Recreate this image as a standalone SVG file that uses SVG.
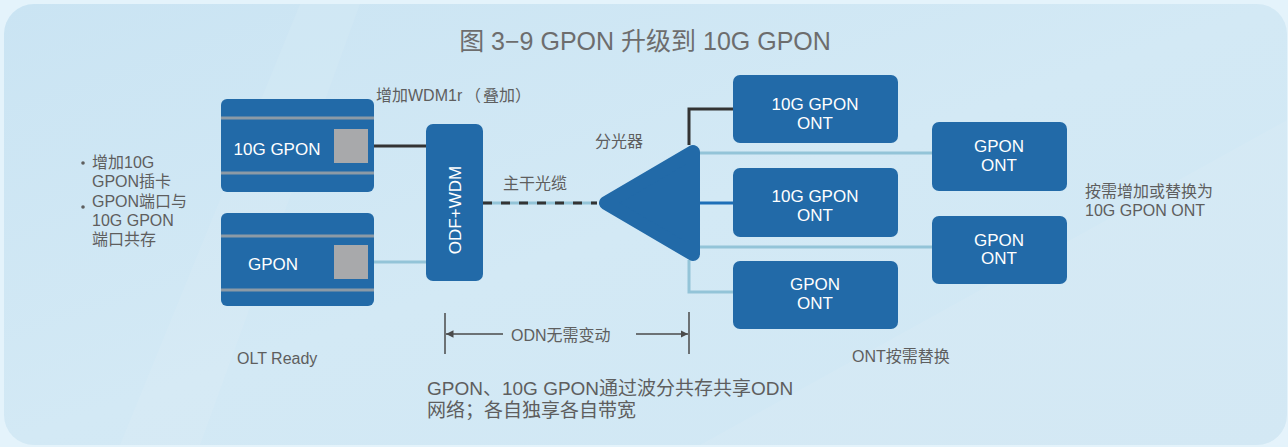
<svg xmlns="http://www.w3.org/2000/svg" width="1288" height="447" viewBox="0 0 1288 447">
<defs>
<linearGradient id="bg" x1="0" y1="0" x2="1" y2="1">
<stop offset="0" stop-color="#cae4f3"/>
<stop offset="0.5" stop-color="#d3e9f5"/>
<stop offset="1" stop-color="#d0e7f4"/>
</linearGradient>
<marker id="arr" viewBox="0 0 10 10" refX="10" refY="5" markerWidth="5" markerHeight="5" orient="auto-start-reverse" markerUnits="strokeWidth">
<path d="M0,0 L10,5 L0,10 z" fill="#4a4a4a"/>
</marker>
</defs>
<style>
.node{fill:#226aa8}
.wt{fill:#ffffff;font-family:"Liberation Sans","Noto Sans CJK SC",sans-serif;font-size:17px;text-anchor:middle}
.lbl{fill:#5e5e5e;font-family:"Liberation Sans","Noto Sans CJK SC",sans-serif;font-size:16px}
.big{font-size:19px}
.rail{stroke:#8c9aa6;stroke-width:3}
.port{fill:#a8a9ab}
.dark{stroke:#333333;stroke-width:3;fill:none}
.light{stroke:#93c4d8;stroke-width:3;fill:none}
.blue{stroke:#1d6fb8;stroke-width:3;fill:none}
.dim{stroke:#4a4a4a;stroke-width:1.5;fill:none}
</style>
<rect x="0" y="0" width="1288" height="447" fill="#e4f3fb"/>
<rect x="4" y="4" width="1283" height="441" rx="30" fill="url(#bg)"/>
<polygon points="300,4 360,4 200,445 120,445" fill="#ffffff" opacity="0.08"/>
<polygon points="700,445 1287,120 1287,445" fill="#ffffff" opacity="0.07"/>

<text x="645" y="50" text-anchor="middle" fill="#6d6d6d" font-family="Liberation Sans,Noto Sans CJK SC,sans-serif" font-size="25">图 3−9 GPON 升级到 10G GPON</text>

<g id="connectors">
<line class="dark" x1="368" y1="146" x2="426" y2="146"/>
<line class="light" x1="368" y1="262" x2="426" y2="262"/>
<line class="light" x1="483" y1="203" x2="597" y2="203"/>
<line class="dark" x1="483" y1="203" x2="597" y2="203" stroke-dasharray="9 9"/>
<path class="dark" d="M689,145 V109 H733"/>
<path class="light" d="M699,153 H932"/>
<path class="blue" d="M699,203 H733"/>
<path class="light" d="M699,247 H932"/>
<path class="light" d="M689,260 V292 H733"/>
</g>

<g id="olt-10g">
<rect class="node" x="221" y="99" width="153" height="93" rx="6"/>
<line class="rail" x1="221" y1="118" x2="374" y2="118"/>
<line class="rail" x1="221" y1="173" x2="374" y2="173"/>
<rect class="port" x="334" y="129" width="34" height="34"/>
<text class="wt" x="277" y="155">10G GPON</text>
</g>
<g id="olt-gpon">
<rect class="node" x="221" y="213" width="153" height="93" rx="6"/>
<line class="rail" x1="221" y1="236" x2="374" y2="236"/>
<line class="rail" x1="221" y1="290" x2="374" y2="290"/>
<rect class="port" x="334" y="245" width="34" height="34"/>
<text class="wt" x="273" y="270">GPON</text>
</g>
<g id="odf-wdm">
<rect class="node" x="426" y="124" width="57" height="157" rx="7"/>
<text class="wt" transform="translate(461,210) rotate(-90)" x="0" y="0">ODF+WDM</text>
</g>
<g id="splitter">
<polygon points="606,203 693,152 693,254" fill="#226aa8" stroke="#226aa8" stroke-width="14" stroke-linejoin="round"/>
</g>
<g id="ont-10g-1">
<rect class="node" x="733" y="75" width="165" height="68" rx="7"/>
<text class="wt" x="815" y="110">10G GPON</text>
<text class="wt" x="815" y="129">ONT</text>
</g>
<g id="ont-10g-2">
<rect class="node" x="733" y="168" width="165" height="69" rx="7"/>
<text class="wt" x="815" y="202">10G GPON</text>
<text class="wt" x="815" y="221">ONT</text>
</g>
<g id="ont-gpon-3">
<rect class="node" x="733" y="261" width="165" height="68" rx="7"/>
<text class="wt" x="815" y="290">GPON</text>
<text class="wt" x="815" y="309">ONT</text>
</g>
<g id="ont-gpon-1">
<rect class="node" x="932" y="122" width="135" height="69" rx="7"/>
<text class="wt" x="999" y="152">GPON</text>
<text class="wt" x="999" y="171">ONT</text>
</g>
<g id="ont-gpon-2">
<rect class="node" x="932" y="216" width="135" height="68" rx="7"/>
<text class="wt" x="999" y="246">GPON</text>
<text class="wt" x="999" y="264">ONT</text>
</g>

<g id="labels">
<text class="lbl" x="376" y="101">增加WDM1r<tspan x="465">（</tspan><tspan x="483">叠加</tspan><tspan x="515">）</tspan></text>
<text class="lbl" x="503" y="189">主干光缆</text>
<text class="lbl" x="595" y="147">分光器</text>
<circle cx="83" cy="163" r="1.8" fill="#5e5e5e"/>
<circle cx="83" cy="207" r="1.8" fill="#5e5e5e"/>
<text class="lbl" x="92" y="168">增加10G</text>
<text class="lbl" x="92" y="187">GPON插卡</text>
<text class="lbl" x="92" y="207">GPON端口与</text>
<text class="lbl" x="92" y="226">10G GPON</text>
<text class="lbl" x="92" y="245">端口共存</text>
<text class="lbl" x="237" y="364">OLT Ready</text>
<text class="lbl" x="852" y="362">ONT按需替换</text>
<text class="lbl" x="1085" y="197">按需增加或替换为</text>
<text class="lbl" x="1085" y="216">10G GPON ONT</text>
<text class="lbl" x="511" y="341">ODN无需变动</text>
<text class="lbl big" x="427" y="395">GPON、10G GPON通过波分共存共享ODN</text>
<text class="lbl big" x="427" y="417">网络；各自独享各自带宽</text>
</g>
<g id="dimension">
<line class="dim" x1="445" y1="313" x2="445" y2="354"/>
<line class="dim" x1="689" y1="312" x2="689" y2="354"/>
<line class="dim" x1="503" y1="334" x2="446" y2="334" marker-end="url(#arr)"/>
<line class="dim" x1="636" y1="334" x2="688" y2="334" marker-end="url(#arr)"/>
</g>
</svg>
